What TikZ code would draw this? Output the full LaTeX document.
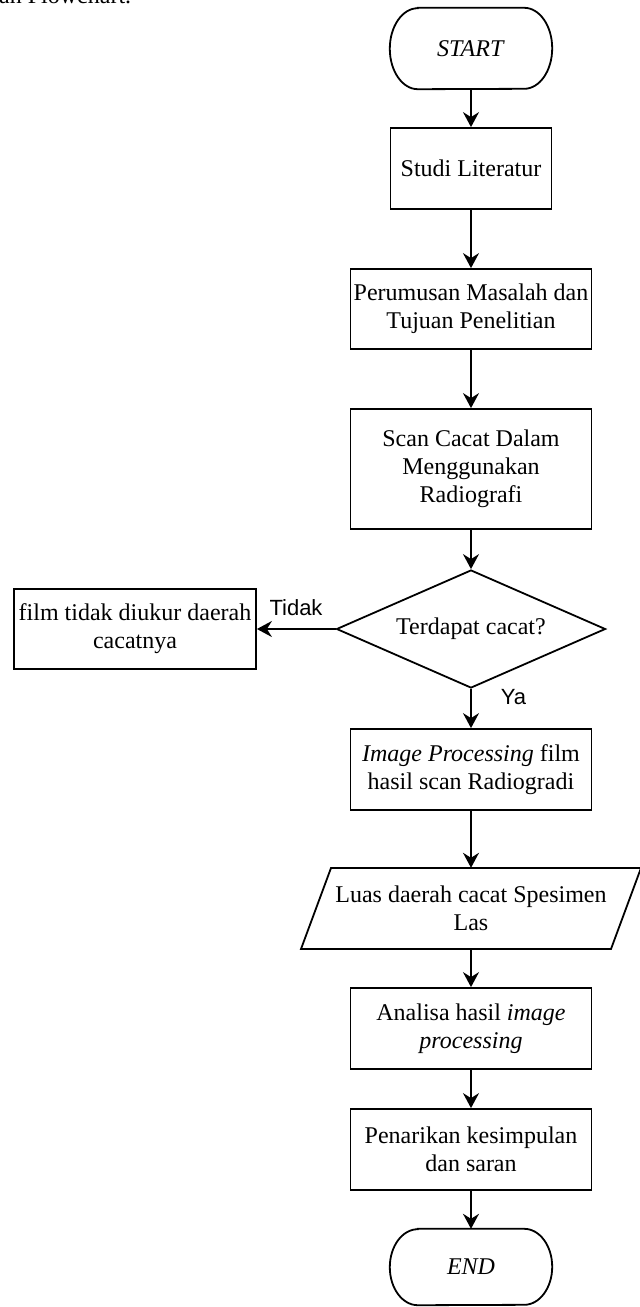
\documentclass[tikz,border=0pt]{standalone}
\usepackage{fontspec}
\setmainfont{Liberation Serif}
\newfontfamily\labelfont{Liberation Sans}
\usetikzlibrary{arrows.meta,shapes.geometric,calc}
\newcommand\drawterminator[2]{%
  \draw[outline] ($(#1.north west)+(28,0)$) -- ($(#1.north east)+(-28,0)$)
    arc[start angle=-90,end angle=90,x radius=28,y radius=#2]
    -- ($(#1.south west)+(28,0)$)
    arc[start angle=90,end angle=270,x radius=28,y radius=#2] -- cycle;}
\begin{document}
\begin{tikzpicture}[x=1pt,y=-1pt,
  every node/.style={font=\fontsize{24}{28}\selectfont, align=center, inner sep=0pt},
  procbox/.style={draw, line width=1.8pt, minimum width=241pt, minimum height=81pt},
  termnode/.style={minimum width=162pt, minimum height=81pt},
  decision/.style={draw, line width=1.8pt, diamond, minimum width=269pt, minimum height=118pt, aspect=2.28},
  iobox/.style={minimum width=282pt, minimum height=81pt},
  outline/.style={line width=1.8pt},
  flow/.style={line width=1.8pt, -{Stealth[length=15pt,width=16pt,inset=5pt]}},
  lbl/.style={font=\labelfont\fontsize{22}{26}\selectfont}
]
\useasboundingbox (0,0) rectangle (640,1307);

\node[anchor=base west] (caption) at (-1,3) {an Flowchart.};

\node[termnode] (start) at (471,48.5) {\textit{START}};
\drawterminator{start}{40.5}
\node[procbox, minimum width=161pt] (studi) at (471,168.5) {Studi Literatur};
\node[procbox, minimum height=80pt] (rumus) at (471,309) {Perumusan Masalah dan\\Tujuan Penelitian};
\node[procbox, minimum height=120pt] (scan) at (471,469) {Scan Cacat Dalam\\Menggunakan\\Radiografi};
\node[decision] (cek) at (471,629) {Terdapat cacat?};
\node[procbox, minimum width=242pt, minimum height=80pt] (film) at (135,629) {film tidak diukur daerah\\cacatnya};
\node[procbox] (imgproc) at (471,769.5) {\textit{Image Processing} film\\hasil scan Radiogradi};
\node[iobox] (luas) at (471,908.5) {Luas daerah cacat Spesimen\\Las};
\draw[outline] ($(luas.center)+(-140,-40.5)$) -- ($(luas.center)+(170,-40.5)$)
  -- ($(luas.center)+(140,40.5)$) -- ($(luas.center)+(-170,40.5)$) -- cycle;
\node[procbox] (analisa) at (471,1028.5) {Analisa hasil \textit{image}\\\textit{processing}};
\node[procbox] (tarik) at (471,1149.5) {Penarikan kesimpulan\\dan saran};
\node[termnode, minimum height=76pt] (end) at (471,1267) {\textit{END}};
\drawterminator{end}{38}

\draw[flow] (start.south) -- (studi.north);
\draw[flow] (studi.south) -- (rumus.north);
\draw[flow] (rumus.south) -- (scan.north);
\draw[flow] (scan.south) -- (cek.north);
\draw[flow] (cek.west) -- (film.east);
\draw[flow] (cek.south) -- (imgproc.north);
\draw[flow] (imgproc.south) -- (luas.north);
\draw[flow] (luas.south) -- (analisa.north);
\draw[flow] (analisa.south) -- (tarik.north);
\draw[flow] (tarik.south) -- (end.north);

\node[lbl] (tidak) at (296,608) {Tidak};
\node[lbl] (ya) at (513.5,697) {Ya};
\end{tikzpicture}
\end{document}
